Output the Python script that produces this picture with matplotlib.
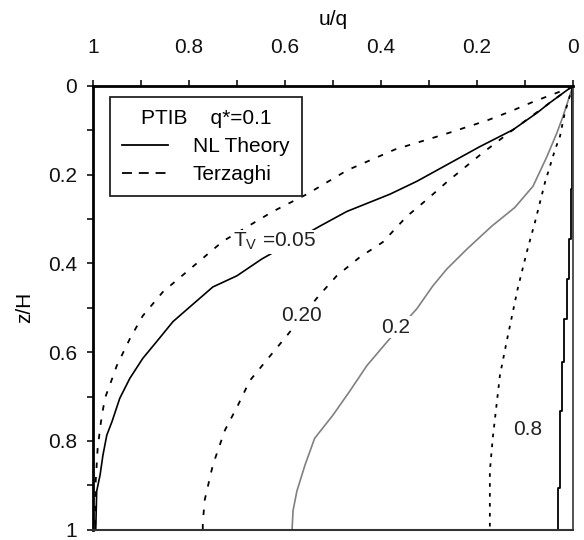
import numpy as np
import matplotlib.pyplot as plt
from matplotlib.lines import Line2D

plt.rcParams['font.family'] = ['Liberation Sans', 'DejaVu Sans']
plt.rcParams['mathtext.fontset'] = 'custom'
plt.rcParams['mathtext.rm'] = 'Liberation Sans'
plt.rcParams['mathtext.it'] = 'Liberation Sans:italic'

### values (u/q against z/H), PTIB, q*=0.1

# Terzaghi, Tv = 0.05
z_t005 = [0, 0.013, 0.036, 0.058, 0.078, 0.11, 0.143, 0.19, 0.244, 0.283, 0.35, 0.413,
          0.464, 0.518, 0.57, 0.63, 0.675, 0.704, 0.756, 0.816, 0.89, 1.0]
u_t005 = [0, 0.027, 0.083, 0.131, 0.179, 0.27, 0.37, 0.47, 0.554, 0.625, 0.729, 0.798,
          0.854, 0.896, 0.923, 0.95, 0.965, 0.975, 0.983, 0.99, 0.994, 0.995]

# NL theory, Tv = 0.05
z_nl005 = [0, 0.038, 0.061, 0.099, 0.137, 0.215, 0.244, 0.283, 0.316, 0.39, 0.428, 0.453,
           0.498, 0.531, 0.576, 0.614, 0.659, 0.704, 0.756, 0.787, 0.832, 0.877, 0.913, 1.0]
u_nl005 = [0, 0.048, 0.075, 0.125, 0.194, 0.325, 0.381, 0.471, 0.527, 0.648, 0.70, 0.75,
           0.798, 0.833, 0.867, 0.896, 0.923, 0.944, 0.96, 0.971, 0.979, 0.985, 0.992, 0.994]

# Terzaghi, Tv = 0.20
z_t020 = [0, 0.05, 0.10, 0.15, 0.217, 0.256, 0.294, 0.352, 0.386, 0.428, 0.475, 0.563,
          0.614, 0.664, 0.72, 0.776, 0.854, 0.933, 0.984, 1.0]
u_t020 = [0, 0.063, 0.126, 0.187, 0.263, 0.304, 0.346, 0.396, 0.444, 0.492, 0.531, 0.596,
          0.635, 0.673, 0.698, 0.725, 0.75, 0.767, 0.771, 0.771]

# NL theory, Tv = 0.2
z_nl020 = [0, 0.07, 0.105, 0.159, 0.226, 0.274, 0.316, 0.368, 0.413, 0.451, 0.502, 0.574,
           0.63, 0.688, 0.742, 0.794, 0.854, 0.913, 0.957, 1.0]
u_nl020 = [0, 0.021, 0.033, 0.054, 0.083, 0.121, 0.169, 0.221, 0.263, 0.292, 0.325, 0.385,
           0.429, 0.465, 0.50, 0.538, 0.558, 0.575, 0.583, 0.585]

# Terzaghi, Tv = 0.8
z_t080 = [0, 0.061, 0.114, 0.143, 0.217, 0.307, 0.374, 0.457, 0.576, 0.652, 0.794, 0.868, 1.0]
u_t080 = [0, 0.017, 0.027, 0.037, 0.058, 0.079, 0.096, 0.115, 0.138, 0.152, 0.167, 0.173, 0.173]

# NL theory, Tv = 0.8 (stepped numerical result)
z_nl080 = [0, 0.233, 0.345, 0.435, 0.525, 0.621, 0.733, 0.906, 1.0]
u_nl080 = [0.002, 0.004, 0.008, 0.0125, 0.019, 0.023, 0.027, 0.031, 0.033]

x_ticks = [0, 0.2, 0.4, 0.6, 0.8, 1.0]
x_ticklabels = ['0', '0.2', '0.4', '0.6', '0.8', '1']
y_ticks = [0, 0.2, 0.4, 0.6, 0.8, 1.0]
y_ticklabels = ['0', '0.2', '0.4', '0.6', '0.8', '1']

# curve labels: (text, u, z)
curve_labels = [(r'T$_\mathregular{V}$ =0.05', 0.622, 0.363),
                ('0.20', 0.565, 0.529),
                ('0.2', 0.369, 0.556),
                ('0.8', 0.094, 0.787)]

fig = plt.figure(figsize=(5.84, 5.4), dpi=100)
ax = fig.add_axes([0.159, 0.019, 0.822, 0.822])

tdash = (3, 5)
ax.plot(u_t005, z_t005, color='k', lw=1.3, dashes=tdash)
ax.plot(u_nl005, z_nl005, color='k', lw=1.2)
ax.plot(u_t020, z_t020, color='k', lw=1.3, dashes=tdash)
ax.plot(u_nl020, z_nl020, color='#808080', lw=1.2)
ax.plot(u_t080, z_t080, color='k', lw=1.3, dashes=(2, 3.5))

# stairs for the 0.8 NL curve
zs = np.repeat(z_nl080, 2)[1:-1]
us = np.repeat(u_nl080, 2)[:-2]
ax.plot(us, zs, color='k', lw=1.3)

for txt, u, z in curve_labels:
    ax.text(u, z, txt, ha='center', va='baseline', fontsize=15, color='#222222',
            bbox=dict(facecolor='white', edgecolor='none', pad=1), zorder=5)

ax.set_xlim(1, 0)
ax.set_ylim(1, 0)
ax.xaxis.tick_top()
ax.xaxis.set_label_position('top')
ax.set_xticks(x_ticks)
ax.set_xticklabels(x_ticklabels)
ax.set_xticks(np.arange(0.1, 1.0, 0.2), minor=True)
ax.set_yticks(y_ticks)
ax.set_yticklabels(y_ticklabels)
ax.set_yticks(np.arange(0.1, 1.0, 0.2), minor=True)

ax.tick_params(axis='x', which='both', top=True, bottom=False, direction='out',
               length=4.5, width=1.2, pad=16, labelsize=15, colors='#111111')
ax.tick_params(axis='y', which='both', left=True, right=False, direction='out',
               length=4.5, width=1.2, pad=7, labelsize=15, colors='#111111')

ax.set_xlabel('u/q', fontsize=15)
ax.set_ylabel('z/H', fontsize=15)
ax.xaxis.set_label_coords(0.5, 1.137)
ax.yaxis.set_label_coords(-0.122, 0.5)

ax.spines['left'].set_linewidth(2.0)
ax.spines['top'].set_linewidth(2.0)
ax.spines['right'].set_linewidth(1.3)
ax.spines['right'].set_color('#444444')
ax.spines['bottom'].set_linewidth(1.5)
ax.spines['bottom'].set_color('#333333')

handles = [Line2D([], [], color='k', lw=1.3),
           Line2D([], [], color='k', lw=1.3, dashes=(5.5, 3.8))]
leg = ax.legend(handles, ['NL Theory', 'Terzaghi'], title='PTIB    q*=0.1',
                loc='upper left', bbox_to_anchor=(0.035, 0.975), fancybox=False,
                edgecolor='#222222', fontsize=15, title_fontsize=15,
                handlelength=2.2, handletextpad=1.2, labelspacing=0.42,
                borderpad=0.6, borderaxespad=0, framealpha=1)
leg.get_frame().set_linewidth(1.3)

plt.savefig('out.png', dpi=100)
